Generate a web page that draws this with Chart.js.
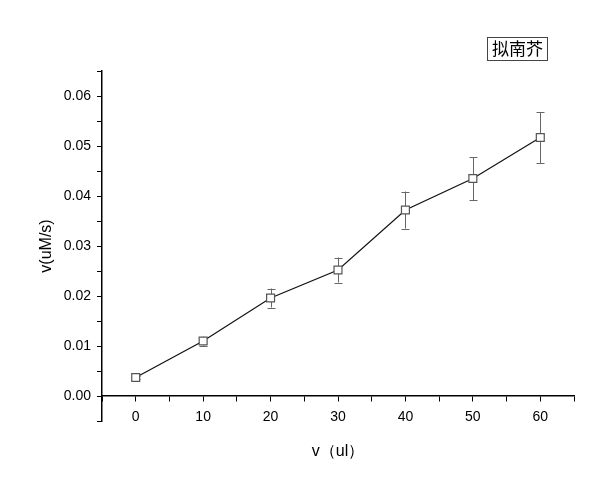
<!DOCTYPE html>
<html>
<head>
<meta charset="utf-8">
<script src="https://cdn.jsdelivr.net/npm/chart.js@4.4.0/dist/chart.umd.min.js"></script>
<style>
  html, body { margin: 0; padding: 0; background: #fff; }
  #wrap { width: 610px; height: 491px; }
</style>
</head>
<body>
<div id="wrap"><canvas id="grafico"></canvas></div>
<script>
// dados
const volumes = [0, 10, 20, 30, 40, 50, 60];
const velocidades = [0.0037, 0.0110, 0.0196, 0.0252, 0.0372, 0.0435, 0.0517];
const erros = [0.0003, 0.0009, 0.0019, 0.0025, 0.0037, 0.0043, 0.0051];
const legenda = '拟南芥';

const pontos = volumes.map((v, i) => ({ x: v, y: velocidades[i] }));

// barras de erro desenhadas com as escalas do próprio Chart.js
const barrasErro = {
    id: 'barrasErro',
    beforeDatasetsDraw(chart) {
        const ctx = chart.ctx;
        const sx = chart.scales.x;
        const sy = chart.scales.y;
        ctx.save();
        ctx.strokeStyle = '#666';
        ctx.lineWidth = 1;
        volumes.forEach((v, i) => {
            const px = Math.round(sx.getPixelForValue(v)) + 0.5;
            const top = sy.getPixelForValue(velocidades[i] + erros[i]);
            const bot = sy.getPixelForValue(velocidades[i] - erros[i]);
            ctx.beginPath();
            ctx.moveTo(px, top);
            ctx.lineTo(px, bot);
            ctx.moveTo(px - 4, Math.round(top) + 0.5);
            ctx.lineTo(px + 4, Math.round(top) + 0.5);
            ctx.moveTo(px - 4, Math.round(bot) + 0.5);
            ctx.lineTo(px + 4, Math.round(bot) + 0.5);
            ctx.stroke();
        });
        ctx.restore();
    }
};

// caixa da legenda no canto superior direito
const caixaLegenda = {
    id: 'caixaLegenda',
    afterDraw(chart) {
        const ctx = chart.ctx;
        ctx.save();
        ctx.font = '17px "Noto Sans CJK SC"';
        const w = ctx.measureText(legenda).width;
        const x = 487, y = 37;
        ctx.strokeStyle = '#444';
        ctx.lineWidth = 1;
        ctx.strokeRect(x + 0.5, y + 0.5, w + 9, 23);
        ctx.fillStyle = '#000';
        ctx.textBaseline = 'middle';
        ctx.fillText(legenda, x + 5, y + 12);
        ctx.restore();
    }
};

const fonteY = { family: 'Liberation Sans, Arial, sans-serif', size: 14 };
const fonteX = { family: 'Liberation Sans, Arial, sans-serif', size: 14 };
const fonteTitulo = { family: 'Liberation Sans, Arial, sans-serif', size: 16 };

const config = {
    type: 'scatter',
    data: {
        datasets: [{
            label: legenda,
            data: pontos,
            showLine: true,
            borderColor: '#111',
            borderWidth: 1.2,
            pointStyle: 'rect',
            pointRadius: 5.6,
            pointHoverRadius: 5.6,
            pointBackgroundColor: '#fff',
            pointBorderColor: '#555',
            pointBorderWidth: 1.2,
        }]
    },
    options: {
        responsive: true,
        maintainAspectRatio: false,
        animation: false,
        layout: {
            padding: { left: 0, right: 36, top: 71, bottom: 70 }
        },
        plugins: {
            legend: { display: false },
            tooltip: { enabled: false }
        },
        scales: {
            x: {
                type: 'linear',
                position: { y: 0 },
                min: -5,
                max: 65,
                afterBuildTicks: (scale) => {
                    const t = [];
                    for (let v = -5; v <= 65; v += 5) t.push({ value: v });
                    scale.ticks = t;
                },
                ticks: {
                    color: '#000',
                    font: fonteX,
                    padding: 8,
                    maxRotation: 0,
                    autoSkip: false,
                    callback: (v) => (v >= 0 && v % 10 === 0 && v <= 60) ? String(v) : ''
                },
                grid: {
                    drawOnChartArea: false,
                    drawTicks: true,
                    tickLength: 5,
                    color: '#000',
                    lineWidth: 1
                },
                border: { display: true, color: '#000', width: 1.5 },
                title: {
                    display: true,
                    text: 'v（ul）',
                    color: '#000',
                    font: fonteTitulo,
                    padding: { top: 8, bottom: 0 }
                }
            },
            y: {
                type: 'linear',
                position: 'left',
                min: -0.005,
                max: 0.065,
                afterBuildTicks: (scale) => {
                    const t = [];
                    for (let i = -1; i <= 13; i++) t.push({ value: i * 0.005 });
                    scale.ticks = t;
                },
                afterFit: (scale) => { scale.width = 102; },
                ticks: {
                    color: '#000',
                    font: fonteY,
                    padding: 6,
                    autoSkip: false,
                    callback: (v) => {
                        const k = Math.round(v / 0.005);
                        return (k >= 0 && k % 2 === 0 && k <= 12) ? (k * 0.005).toFixed(2) : '';
                    }
                },
                grid: {
                    drawOnChartArea: false,
                    drawTicks: true,
                    tickLength: 5,
                    color: '#000',
                    lineWidth: 1
                },
                border: { display: true, color: '#000', width: 1.5 },
                title: {
                    display: true,
                    text: 'v(uM/s)',
                    color: '#000',
                    font: fonteTitulo,
                    padding: { top: 37, bottom: 0 }
                }
            }
        }
    },
    plugins: [barrasErro, caixaLegenda]
};

const grafico = new Chart(document.getElementById('grafico'), config);
</script>
</body>
</html>
